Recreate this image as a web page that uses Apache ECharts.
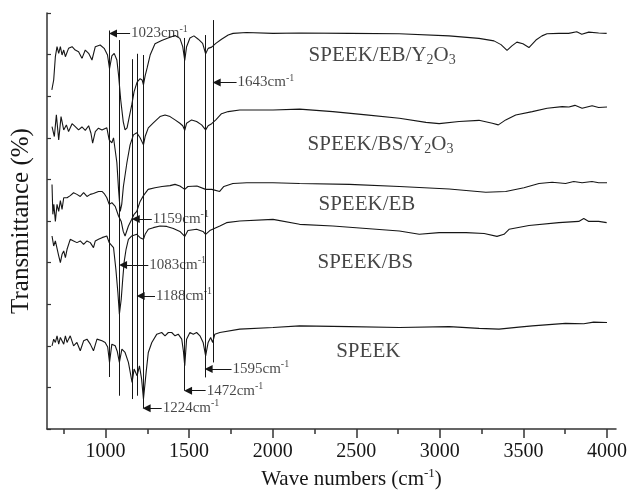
<!DOCTYPE html>
<html><head><meta charset="utf-8">
<script src="https://cdn.jsdelivr.net/npm/echarts@6/dist/echarts.min.js"></script>
<style>html,body{margin:0;padding:0;background:#fff}#c{width:630px;height:496px}</style>
</head><body><div id="c"></div>
<script>
// ---- axis ticks ----
const xTicks = [1000, 1500, 2000, 2500, 3000, 3500, 4000];
const xMinorTicks = [750, 1250, 1750, 2250, 2750, 3250, 3750];

// ---- spectra: [wavenumber (cm-1), transmittance (offset, %)] ----
const speekEBY = [[679,81.5],[690,83.9],[700,89.5],[710,91.9],[720,90.3],[730,91.9],[740,89.9],[750,91.1],[760,89.5],[779,91.5],[800,91.9],[819,91.1],[839,90.7],[859,89.1],[879,91.1],[899,90.3],[919,88.7],[939,91.9],[968,92.3],[992,91.5],[1012,89.9],[1024,86.6],[1038,89.7],[1052,90.3],[1068,88.7],[1078,85.1],[1091,79.1],[1106,73.9],[1117,71.9],[1129,72.4],[1141,74.8],[1157,77.9],[1171,81.1],[1189,83.4],[1207,84.2],[1219,83.9],[1227,82.7],[1237,84.9],[1249,86.8],[1267,89.9],[1296,92.6],[1336,93.4],[1374,94.0],[1416,94.6],[1445,93.9],[1462,91.9],[1474,88.6],[1485,91.9],[1505,94.0],[1529,94.5],[1555,93.7],[1581,92.7],[1599,90.2],[1614,91.5],[1635,91.8],[1660,92.7],[1694,93.7],[1734,94.7],[1763,95.1],[1843,95.3],[2002,95.1],[2161,95.2],[2459,95.1],[2757,95.0],[3055,94.5],[3234,93.9],[3324,93.3],[3366,92.4],[3402,91.0],[3431,92.1],[3461,93.0],[3497,92.6],[3533,91.7],[3575,93.5],[3611,94.5],[3641,95.0],[3712,95.1],[3771,95.1],[3819,95.5],[3849,94.9],[3891,95.4],[3950,95.2],[3998,95.1]];

const speekBSY = [[680,72.7],[694,70.3],[706,75.5],[720,69.5],[734,75.1],[750,71.9],[766,73.1],[779,71.5],[800,73.4],[819,72.7],[839,71.9],[859,72.6],[879,71.8],[899,72.9],[913,71.1],[923,68.7],[939,71.5],[958,72.3],[979,71.9],[1008,72.4],[1022,69.5],[1038,68.8],[1048,70.0],[1068,64.0],[1078,57.6],[1088,52.3],[1097,54.0],[1107,58.3],[1128,64.0],[1147,68.3],[1167,70.7],[1187,71.2],[1207,70.0],[1227,68.3],[1237,70.3],[1256,72.4],[1286,73.6],[1326,75.1],[1356,75.5],[1386,75.1],[1416,74.3],[1445,73.5],[1462,72.9],[1474,71.8],[1485,73.5],[1515,74.3],[1545,73.9],[1575,73.1],[1599,71.9],[1614,72.9],[1635,73.4],[1660,74.3],[1694,75.8],[1734,76.3],[1803,76.7],[2002,76.7],[2161,76.9],[2360,76.3],[2559,75.5],[2758,74.7],[2917,73.7],[2996,73.4],[3115,73.9],[3234,74.2],[3314,73.5],[3350,73.1],[3394,74.3],[3454,75.5],[3553,76.3],[3642,77.1],[3732,77.5],[3772,77.4],[3808,77.8],[3851,77.1],[3911,77.7],[3950,77.3],[4000,77.4]];

const speekEB = [[680,58.8],[685,51.6],[691,54.0],[700,49.9],[710,54.0],[720,52.3],[730,54.9],[740,52.8],[750,55.6],[770,55.6],[789,56.1],[809,56.8],[829,56.4],[849,55.9],[869,56.8],[889,55.9],[909,56.4],[928,56.6],[939,56.8],[958,57.1],[979,57.1],[992,56.6],[1008,55.6],[1022,54.0],[1038,54.4],[1058,53.5],[1078,51.2],[1094,49.9],[1106,47.5],[1117,46.4],[1137,48.8],[1157,50.4],[1171,51.6],[1187,52.3],[1207,54.7],[1227,56.1],[1255,57.6],[1296,58.0],[1338,58.3],[1386,58.5],[1416,58.8],[1445,58.4],[1474,57.6],[1493,58.3],[1547,58.4],[1599,57.6],[1636,57.6],[1683,57.1],[1708,58.3],[1762,59.0],[1845,59.2],[2002,59.2],[2161,59.0],[2459,58.8],[2758,58.3],[3056,57.7],[3275,56.9],[3394,57.1],[3503,58.0],[3593,59.0],[3672,59.3],[3752,59.0],[3801,59.5],[3851,59.2],[3910,59.5],[3950,59.2],[4000,59.2]];

const speekBS = [[680,46.4],[690,44.0],[700,45.2],[710,45.6],[720,41.6],[730,40.0],[740,42.0],[750,42.8],[760,41.2],[770,43.2],[789,45.6],[809,45.2],[829,44.8],[849,45.2],[869,44.4],[889,45.2],[909,44.8],[928,43.6],[939,45.2],[958,45.6],[979,46.0],[1008,46.4],[1022,44.8],[1048,43.6],[1062,38.4],[1074,32.8],[1083,27.6],[1094,31.2],[1103,36.0],[1112,40.3],[1123,43.2],[1137,45.6],[1157,46.4],[1187,46.8],[1207,46.0],[1227,45.6],[1237,46.8],[1256,48.0],[1286,48.4],[1326,48.8],[1366,48.7],[1406,48.2],[1445,47.5],[1474,46.3],[1493,47.7],[1545,48.0],[1583,47.5],[1599,46.8],[1624,47.7],[1684,48.8],[1724,49.6],[1803,50.0],[2002,50.4],[2161,49.2],[2360,48.8],[2559,48.2],[2758,47.6],[2877,46.8],[2996,47.2],[3157,47.2],[3265,47.0],[3342,46.3],[3384,46.8],[3414,48.0],[3533,48.9],[3712,49.6],[3831,49.9],[3861,50.6],[3891,49.9],[3950,49.9],[3998,49.6]];

const speek = [[680,20.0],[690,21.6],[700,20.8],[710,22.4],[720,20.4],[730,22.0],[740,21.6],[750,20.4],[760,22.4],[770,20.8],[779,21.6],[789,22.4],[809,20.0],[829,20.8],[849,18.8],[869,21.2],[889,21.6],[909,20.4],[928,18.8],[949,21.6],[979,21.2],[998,20.8],[1013,19.7],[1024,16.0],[1038,20.4],[1058,20.0],[1070,18.7],[1083,16.0],[1098,19.2],[1117,18.4],[1137,16.0],[1159,11.2],[1171,14.4],[1189,12.8],[1203,15.2],[1216,12.0],[1227,7.2],[1243,13.6],[1256,18.4],[1277,20.8],[1307,22.8],[1336,23.2],[1356,22.4],[1376,23.2],[1396,23.2],[1416,22.4],[1435,22.8],[1456,21.6],[1466,18.7],[1474,15.2],[1485,21.6],[1505,23.2],[1525,22.8],[1545,23.2],[1565,22.4],[1584,20.8],[1599,17.6],[1614,20.8],[1629,22.0],[1641,20.8],[1654,22.8],[1684,23.2],[1803,24.0],[2002,24.4],[2161,24.8],[2459,24.6],[2758,24.4],[3056,24.6],[3235,24.2],[3354,24.0],[3473,24.5],[3553,24.8],[3652,25.1],[3752,25.4],[3861,25.3],[3920,25.7],[4000,25.6]];

// ---- sample names and where they are written ----
const sampleNames = ['SPEEK/EB/Y2O3', 'SPEEK/BS/Y2O3', 'SPEEK/EB', 'SPEEK/BS', 'SPEEK'];
const sampleLabelAt = [[2215, 89.8], [2209, 68.4], [2274, 54.0], [2268, 40.1], [2380, 18.7]];

// ---- marked bands ----
const peaks      = [1023, 1083, 1159, 1188, 1224, 1472, 1595, 1643];
const peakTop    = [95.8, 93.5, 88.9, 90.2, 89.9, 94.0, 94.7, 98.3];
const peakBottom = [12.5, 8.0, 7.2, 8.0, 5.0, 9.2, 12.4, 16.0];
const arrowLevel = [95.1, 39.4, 50.5, 32.0, 5.0, 9.2, 14.4, 83.3];
const arrowTail  = [1147, 1256, 1277, 1296, 1336, 1599, 1754, 1784];

const FONT = 'Liberation Serif';
const INK = '#161616';
const headShift = 22; // half arrow-head length in axis units

const spectra = [speekEBY, speekBSY, speekEB, speekBS, speek];

const series = spectra.map((d, i) => ({
  type: 'line', name: sampleNames[i], data: d, showSymbol: false, symbol: 'none',
  lineStyle: { color: INK, width: 1.1 }, animation: false, z: 3
}));

series.push({
  type: 'lines', coordinateSystem: 'cartesian2d', animation: false, silent: true,
  lineStyle: { color: INK, width: 1, opacity: 1 }, symbol: 'none',
  data: peaks.map((p, i) => ({ coords: [[p, peakTop[i]], [p, peakBottom[i]]] }))
});
series.push({
  type: 'lines', coordinateSystem: 'cartesian2d', animation: false, silent: true,
  lineStyle: { color: INK, width: 1, opacity: 1 },
  symbol: ['none', 'triangle'], symbolSize: 8,
  itemStyle: { color: INK },
  data: peaks.map((p, i) => ({ coords: [[arrowTail[i], arrowLevel[i]], [p + headShift, arrowLevel[i]]] }))
});
series.push({
  type: 'scatter', symbolSize: 0, animation: false, silent: true,
  data: peaks.map((p, i) => [arrowTail[i], arrowLevel[i], p]),
  label: {
    show: true, position: 'right', distance: 1,
    formatter: (q) => '{n|' + q.value[2] + 'cm}{p|-1}',
    rich: {
      n: { fontFamily: FONT, fontSize: 15, lineHeight: 22, color: INK },
      p: { fontFamily: FONT, fontSize: 10, lineHeight: 10, padding: [0, 0, 9, 0], color: INK }
    }
  }
});
series.push({
  type: 'scatter', symbolSize: 0, animation: false, silent: true,
  data: sampleNames.map((n, i) => [sampleLabelAt[i][0], sampleLabelAt[i][1], n]),
  label: {
    show: true, position: 'right', distance: 0,
    formatter: (q) => ('{n|' + q.value[2].replace(/(\d)/g, '}{s|$1}{n|') + '}').replace(/\{n\|\}/g, ''),
    rich: {
      n: { fontFamily: FONT, fontSize: 21, lineHeight: 30, color: INK },
      s: { fontFamily: FONT, fontSize: 14, lineHeight: 14, padding: [10, 0, 0, 0], color: INK }
    }
  }
});

const chart = echarts.init(document.getElementById('c'), null, { renderer: 'canvas' });
chart.setOption({
  backgroundColor: '#fff',
  animation: false,
  grid: { left: 47, right: 13, top: 13, bottom: 66, containLabel: false },
  xAxis: [{
    type: 'value', min: 650, max: 4054,
    name: '{a|Wave numbers (cm}{b|-1}{a|)}',
    nameLocation: 'middle', nameGap: 36,
    nameTextStyle: {
      padding: [0, 0, 0, 40],
      rich: {
        a: { fontFamily: FONT, fontSize: 21, lineHeight: 28, color: INK },
        b: { fontFamily: FONT, fontSize: 13, lineHeight: 13, padding: [0, 0, 11, 0], color: INK }
      }
    },
    axisLine: { show: true, lineStyle: { color: '#333', width: 1.5 } },
    axisTick: { show: true, inside: false, length: 9, customValues: xTicks, lineStyle: { color: '#333', width: 1.5 } },
    axisLabel: { show: true, margin: 13, customValues: xTicks, formatter: (v) => String(v), fontFamily: FONT, fontSize: 20, color: INK },
    splitLine: { show: false }
  }, {
    type: 'value', min: 650, max: 4054, position: 'bottom',
    axisLine: { show: false },
    axisTick: { show: true, inside: false, length: 5, customValues: xMinorTicks, lineStyle: { color: '#333', width: 1.5 } },
    axisLabel: { show: false },
    splitLine: { show: false }
  }],
  yAxis: {
    type: 'value', min: 0, max: 100, interval: 10,
    name: 'Transmittance (%)', nameLocation: 'middle', nameGap: 13,
    nameTextStyle: { fontFamily: FONT, fontSize: 25, color: INK, padding: [0, 0, 0, 0] },
    axisLine: { show: true, lineStyle: { color: '#333', width: 1.5 } },
    axisTick: { show: true, inside: true, length: 4, lineStyle: { color: '#333', width: 1.2 } },
    axisLabel: { show: false },
    splitLine: { show: false }
  },
  series: series
});
</script>
</body></html>
